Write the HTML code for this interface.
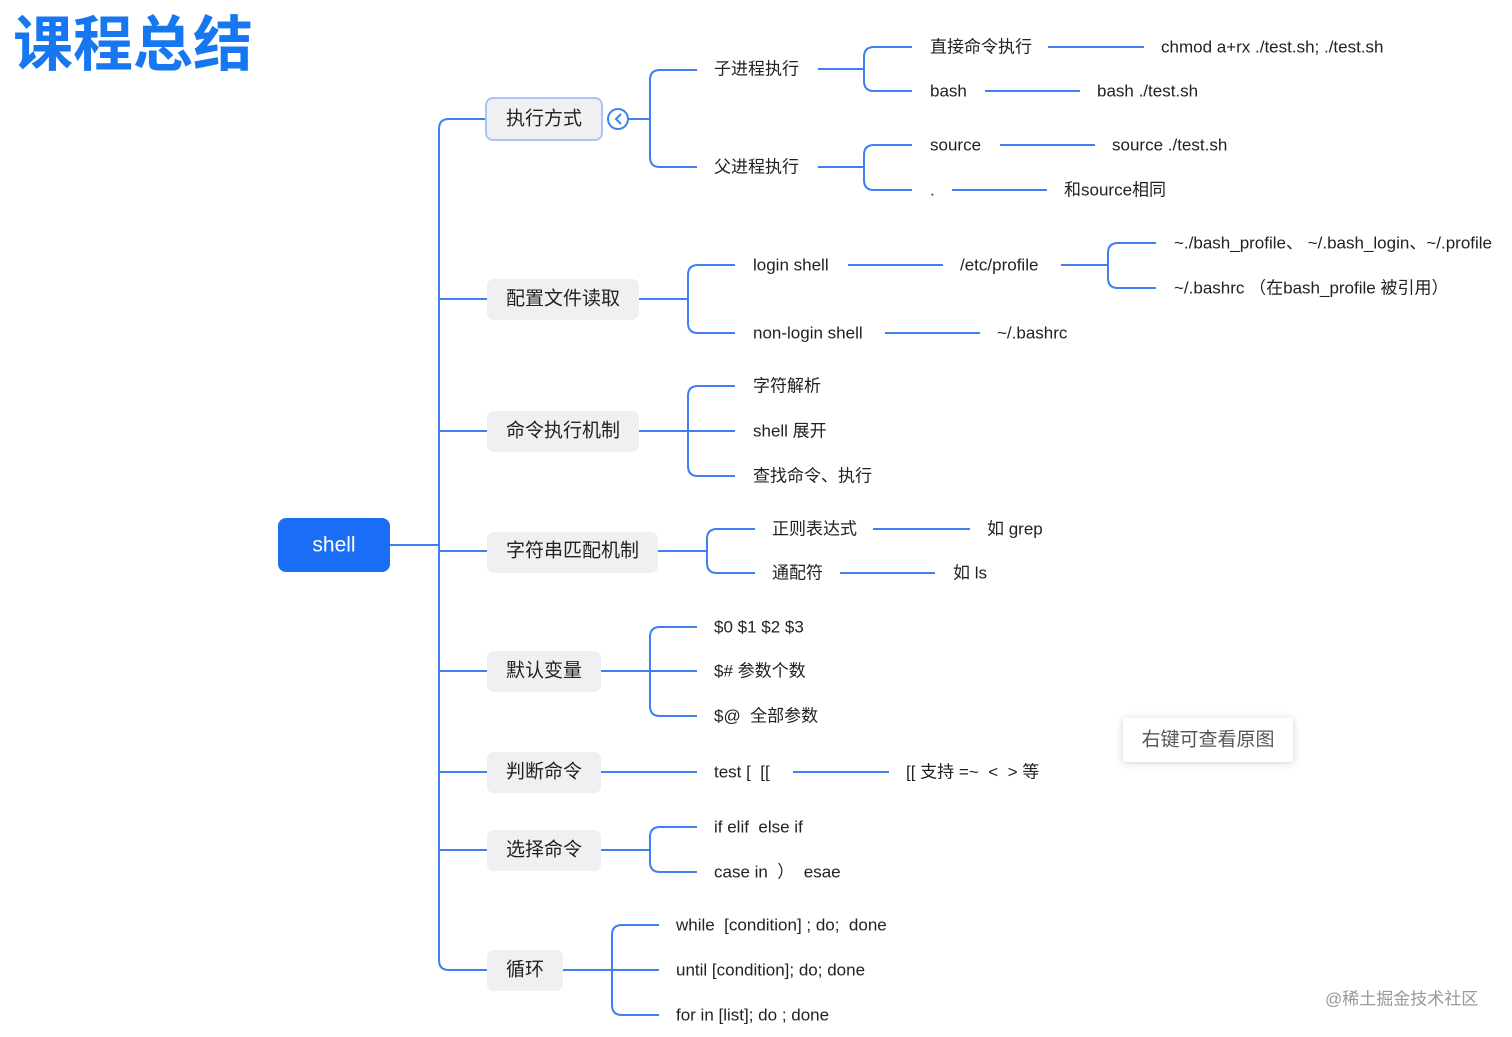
<!DOCTYPE html>
<html><head><meta charset="utf-8"><style>
html,body{margin:0;padding:0;background:#fff;width:1512px;height:1037px;overflow:hidden}
svg text{font-family:"Liberation Sans","Noto Sans CJK SC",sans-serif;fill:#222;dominant-baseline:central;white-space:pre}
.n{fill:#eef0f2}
.c{font-size:19px}
.l{font-size:17px}
path{fill:none;stroke:#3f7fef;stroke-width:2}
</style></head><body>
<svg width="1512" height="1037" viewBox="0 0 1512 1037" xmlns="http://www.w3.org/2000/svg">
<text x="13" y="45" style="font-size:60px;font-weight:bold;fill:#1677f0">课程总结</text>
<!-- trunk -->
<path d="M390 545 H439 M487 119 H449 Q439 119 439 129 V960 Q439 970 449 970 H487
M439 551 H487 M439 299 H487 M439 431 H487 M439 671 H487 M439 772 H487 M439 850 H487"/>
<rect x="278" y="518" width="112" height="54" rx="8" fill="#1a6ef5"/>
<text x="334" y="545" text-anchor="middle" style="font-size:21px;fill:#fff">shell</text>
<!-- category nodes -->
<rect x="486" y="98" width="116" height="42" rx="7" class="n" stroke="#a9c5f5" stroke-width="2"/>
<text x="506" y="119" class="c">执行方式</text>
<rect x="487" y="279" width="152" height="41" rx="7" class="n"/><text x="506" y="299" class="c">配置文件读取</text>
<rect x="487" y="411" width="152" height="41" rx="7" class="n"/><text x="506" y="431" class="c">命令执行机制</text>
<rect x="487" y="532" width="171" height="41" rx="7" class="n"/><text x="506" y="551" class="c">字符串匹配机制</text>
<rect x="487" y="651" width="114" height="41" rx="7" class="n"/><text x="506" y="671" class="c">默认变量</text>
<rect x="487" y="752" width="114" height="41" rx="7" class="n"/><text x="506" y="772" class="c">判断命令</text>
<rect x="487" y="830" width="114" height="41" rx="7" class="n"/><text x="506" y="850" class="c">选择命令</text>
<rect x="487" y="950" width="76" height="41" rx="7" class="n"/><text x="506" y="970" class="c">循环</text>
<!-- 执行方式 -->
<circle cx="618" cy="119" r="10" fill="#fff" stroke="#3f7fef" stroke-width="2"/>
<path d="M621 114 L616 119 L621 124"/>
<path d="M628 119 H650 M697 70 H660 Q650 70 650 80 V157 Q650 167 660 167 H697"/>
<text x="714" y="69" class="l">子进程执行</text><text x="714" y="167" class="l">父进程执行</text>
<path d="M818 69 H864 M912 47 H874 Q864 47 864 57 V81 Q864 91 874 91 H912"/>
<text x="930" y="47" class="l">直接命令执行</text><text x="930" y="91" class="l">bash</text>
<path d="M1048 47 H1144 M985 91 H1080"/>
<text x="1161" y="47" class="l">chmod a+rx ./test.sh; ./test.sh</text>
<text x="1097" y="91" class="l">bash ./test.sh</text>
<path d="M818 167 H864 M912 145 H874 Q864 145 864 155 V180 Q864 190 874 190 H912"/>
<text x="930" y="145" class="l">source</text><text x="930" y="190" class="l">.</text>
<path d="M1000 145 H1095 M952 190 H1047"/>
<text x="1112" y="145" class="l">source ./test.sh</text><text x="1064" y="190" class="l">和source相同</text>
<!-- 配置文件 -->
<path d="M639 299 H688 M735 265 H698 Q688 265 688 275 V323 Q688 333 698 333 H735"/>
<text x="753" y="265" class="l">login shell</text><text x="753" y="333" class="l">non-login shell</text>
<path d="M848 265 H943 M885 333 H980"/>
<text x="960" y="265" class="l">/etc/profile</text><text x="997" y="333" class="l">~/.bashrc</text>
<path d="M1061 265 H1108 M1156 243 H1118 Q1108 243 1108 253 V278 Q1108 288 1118 288 H1156"/>
<text x="1174" y="243" class="l">~./bash_profile、 ~/.bash_login、~/.profile</text>
<text x="1174" y="288" class="l">~/.bashrc （在bash_profile 被引用）</text>
<!-- 命令执行 -->
<path d="M639 431 H688 M735 386 H698 Q688 386 688 396 V466 Q688 476 698 476 H735 M688 431 H735"/>
<text x="753" y="386" class="l">字符解析</text><text x="753" y="431" class="l">shell 展开</text><text x="753" y="476" class="l">查找命令、执行</text>
<!-- 字符串 -->
<path d="M658 551 H707 M755 529 H717 Q707 529 707 539 V563 Q707 573 717 573 H755"/>
<text x="772" y="529" class="l">正则表达式</text><text x="772" y="573" class="l">通配符</text>
<path d="M873 529 H970 M840 573 H935"/>
<text x="987" y="529" class="l">如 grep</text><text x="953" y="573" class="l">如 ls</text>
<!-- 默认变量 -->
<path d="M601 671 H650 M697 627 H660 Q650 627 650 637 V706 Q650 716 660 716 H697 M650 671 H697"/>
<text x="714" y="627" class="l">$0 $1 $2 $3</text><text x="714" y="671" class="l">$# 参数个数</text><text x="714" y="716" class="l">$@  全部参数</text>
<!-- 判断 -->
<path d="M601 772 H697 M793 772 H889"/>
<text x="714" y="772" class="l">test [  [[</text><text x="906" y="772" class="l">[[ 支持 =~  &lt;  &gt; 等</text>
<!-- 选择 -->
<path d="M601 850 H650 M697 827 H660 Q650 827 650 837 V862 Q650 872 660 872 H697"/>
<text x="714" y="827" class="l">if elif  else if</text><text x="714" y="872" class="l">case in  ）  esae</text>
<!-- 循环 -->
<path d="M563 970 H612 M659 925 H622 Q612 925 612 935 V1005 Q612 1015 622 1015 H659 M612 970 H659"/>
<text x="676" y="925" class="l">while  [condition] ; do;  done</text><text x="676" y="970" class="l">until [condition]; do; done</text><text x="676" y="1015" class="l">for in [list]; do ; done</text>
<!-- tooltip -->
<rect x="1123" y="718" width="170" height="44" rx="3" fill="#fff" style="filter:drop-shadow(0 1px 4px rgba(0,0,0,0.18))"/>
<text x="1208" y="740" text-anchor="middle" style="font-size:19px;fill:#555">右键可查看原图</text>
<text x="1325" y="999" style="font-size:17px;fill:#999">@稀土掘金技术社区</text>
</svg>
</body></html>
